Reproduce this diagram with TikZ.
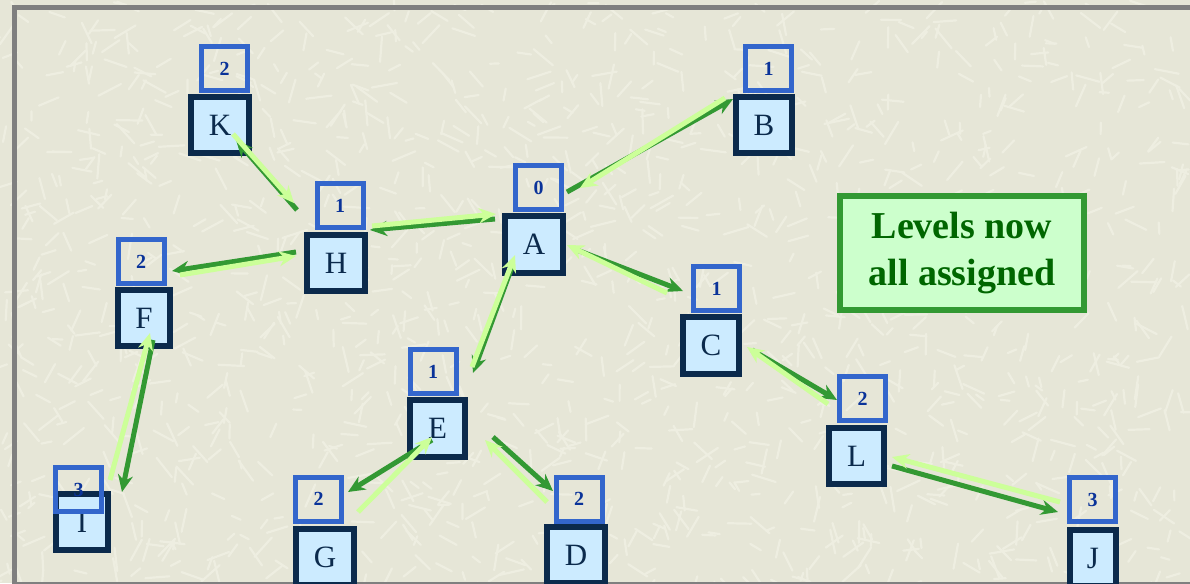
\documentclass[tikz,border=0pt]{standalone}
\usepackage{fontspec}
\setmainfont{Liberation Serif}
\usetikzlibrary{arrows.meta}
\definecolor{bgc}{HTML}{E6E6D7}
\definecolor{texc}{HTML}{EEEEE1}
\definecolor{framec}{HTML}{7F7F7F}
\definecolor{navyc}{HTML}{0B2A4C}
\definecolor{boxfill}{HTML}{CCEBFF}
\definecolor{lblc}{HTML}{3366CC}
\definecolor{lbltext}{HTML}{0A3399}
\definecolor{darkg}{HTML}{339933}
\definecolor{lightg}{HTML}{CCFF99}
\definecolor{notefill}{HTML}{CCFFCC}
\definecolor{notetext}{HTML}{006600}
\tikzset{
  letterbox/.style={draw=navyc, fill=boxfill, line width=6pt, inner sep=0pt,
    minimum width=58pt, minimum height=56pt, text=navyc,
    font=\fontsize{31}{31}\selectfont},
  labelbox/.style={draw=lblc, line width=5pt, inner sep=0pt,
    minimum width=46pt, minimum height=44pt, text=lbltext,
    font=\fontsize{20}{20}\selectfont\bfseries},
  dk/.style={draw=darkg, line width=5pt, -{Stealth[length=17pt,width=15pt]}},
  lt/.style={draw=lightg, line width=5pt, -{Stealth[length=17pt,width=15pt]}},
  texstroke/.style={draw=texc, line width=2.2pt, line cap=round}
}
\begin{document}
\begin{tikzpicture}[x=1pt,y=-1pt]
\useasboundingbox (0,0) rectangle (1190,583);
\fill[bgc] (0,0) rectangle (1190,583);
\pgfmathsetseed{11}
\foreach \i in {1,...,1400}{
  \pgfmathsetmacro\xx{rnd*1190}
  \pgfmathsetmacro\yy{rnd*583}
  \pgfmathsetmacro\aa{rnd*180}
  \pgfmathsetmacro\ll{8+rnd*18}
  \draw[texstroke] (\xx,\yy) -- ++(\aa:\ll);
}
\draw[framec, line width=5pt] (14,8) rectangle (1215,584);

% letter boxes
\node[letterbox] (K) at (220,125) {K};
\node[letterbox, minimum width=56pt] (B) at (764,125) {B};
\node[letterbox, minimum height=57pt] (A) at (534,244.5) {A};
\node[letterbox] (H) at (336,263) {H};
\node[letterbox, minimum width=52pt] (F) at (144,318) {F};
\node[letterbox, minimum width=56pt, minimum height=57pt] (C) at (711,345.5) {C};
\node[letterbox, minimum width=55pt, minimum height=57pt] (E) at (437.5,428.5) {E};
\node[letterbox, minimum width=55pt] (L) at (856.5,456) {L};
\node[letterbox, minimum width=52pt] (I) at (82,522) {I};
\node[letterbox] (G) at (325,557) {G};
\node[letterbox] (D) at (576,555) {D};
\node[letterbox, minimum width=46pt] (J) at (1093,558) {J};

% level labels
\node[labelbox] (Kl) at (224.5,68.5) {2};
\node[labelbox] (Bl) at (768.5,68.5) {1};
\node[labelbox] (Al) at (538.5,187.5) {0};
\node[labelbox] (Hl) at (340,205.5) {1};
\node[labelbox] (Fl) at (141,261.5) {2};
\node[labelbox] (Cl) at (716.5,288.5) {1};
\node[labelbox] (El) at (433,371.5) {1};
\node[labelbox] (Ll) at (862.5,398.5) {2};
\node[labelbox] (Jl) at (1092.5,499.5) {3};
\node[labelbox] (Gl) at (318.5,499) {2};
\node[labelbox] (Dl) at (579,499) {2};
\node[labelbox] (Il) at (78.5,489.5) {3};

% note
\node[draw=darkg, fill=notefill, line width=6pt, minimum width=244pt,
  minimum height=114pt, inner sep=0pt, text=notetext, align=center,
  font=\fontsize{38}{47}\selectfont\bfseries] (note) at (962,253)
  {Levels now\\all assigned};

% edge end points
\coordinate (ab1) at (567,192); \coordinate (ab2) at (733,99);
\coordinate (ab3) at (725,98);  \coordinate (ab4) at (580,188);
\coordinate (ah1) at (495,219); \coordinate (ah2) at (370,230);
\coordinate (ah3) at (372,226); \coordinate (ah4) at (496,214);
\coordinate (ac1) at (577,250); \coordinate (ac2) at (683,291);
\coordinate (ac3) at (667,293); \coordinate (ac4) at (567,245);
\coordinate (ae1) at (512,267); \coordinate (ae2) at (473,373);
\coordinate (ae3) at (472,367); \coordinate (ae4) at (515,255);
\coordinate (hk1) at (297,210); \coordinate (hk2) at (236,140);
\coordinate (hk3) at (233,134); \coordinate (hk4) at (294,203);
\coordinate (hf1) at (296,252); \coordinate (hf2) at (172,271);
\coordinate (hf3) at (180,275); \coordinate (hf4) at (296,256);
\coordinate (fi1) at (153,340); \coordinate (fi2) at (122,492);
\coordinate (fi3) at (110,480); \coordinate (fi4) at (150,333);
\coordinate (eg1) at (432,440); \coordinate (eg2) at (348,492);
\coordinate (eg3) at (358,512); \coordinate (eg4) at (432,437);
\coordinate (ed1) at (493,437); \coordinate (ed2) at (553,491);
\coordinate (ed3) at (547,502); \coordinate (ed4) at (485,440);
\coordinate (cl1) at (752,350); \coordinate (cl2) at (837,400);
\coordinate (cl3) at (828,404); \coordinate (cl4) at (747,347);
\coordinate (lj1) at (892,466); \coordinate (lj2) at (1058,512);
\coordinate (lj3) at (1060,502); \coordinate (lj4) at (892,457);

% edges: dark = parent to child, light = child to parent
\foreach \e in {ab,ah,ac,ae,hk,hf,fi,eg,ed,cl,lj}{
  \draw[dk] (\e1) -- (\e2);
  \draw[lt] (\e3) -- (\e4);
}
\end{tikzpicture}
\end{document}
